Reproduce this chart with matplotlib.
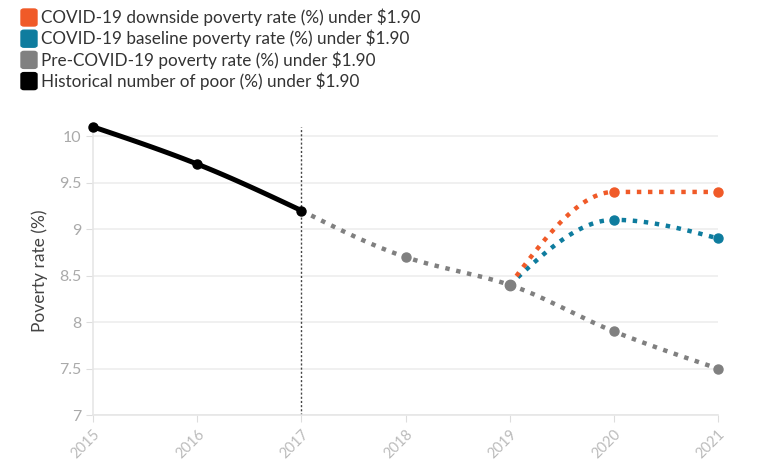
import numpy as np
import matplotlib
matplotlib.use('Agg')
import matplotlib.pyplot as plt
from matplotlib.patches import FancyBboxPatch

plt.rcParams['font.family'] = ['Lato', 'DejaVu Sans']

# data
hist_years = [2015, 2016, 2017]
hist_rate = [10.1, 9.7, 9.2]
pre_years = [2017, 2018, 2019, 2020, 2021]
pre_rate = [9.2, 8.7, 8.4, 7.9, 7.5]
covid_years = [2019, 2020, 2021]
base_rate = [8.4, 9.1, 8.9]
down_rate = [8.4, 9.4, 9.4]

labels = ['COVID-19 downside poverty rate (%) under $1.90',
          'COVID-19 baseline poverty rate (%) under $1.90',
          'Pre-COVID-19 poverty rate (%) under $1.90',
          'Historical number of poor (%) under $1.90']
c_down, c_base, c_pre, c_hist = '#f05a28', '#0e7c9e', '#808080', '#000000'


def monotone(x, y, n=40):
    # monotone cubic (same shape as d3 curveMonotoneX), only for drawing
    x = np.asarray(x, float); y = np.asarray(y, float)
    h = np.diff(x); d = np.diff(y) / h
    m = np.zeros_like(y)
    for i in range(1, len(y) - 1):
        if d[i-1] * d[i] > 0:
            m[i] = 3 * (h[i-1] + h[i]) / ((2*h[i] + h[i-1]) / d[i-1] + (h[i] + 2*h[i-1]) / d[i])
    m[0] = (3 * d[0] - m[1]) / 2 if len(y) > 2 else d[0]
    m[-1] = (3 * d[-1] - m[-2]) / 2 if len(y) > 2 else d[-1]
    if np.sign(m[0]) != np.sign(d[0]): m[0] = 0
    if np.sign(m[-1]) != np.sign(d[-1]): m[-1] = 0
    xs, ys = [], []
    for i in range(len(h)):
        t = np.linspace(0, 1, n)
        h00 = 2*t**3 - 3*t**2 + 1; h10 = t**3 - 2*t**2 + t
        h01 = -2*t**3 + 3*t**2; h11 = t**3 - t**2
        xs.append(x[i] + t*h[i])
        ys.append(h00*y[i] + h10*h[i]*m[i] + h01*y[i+1] + h11*h[i]*m[i+1])
    return np.concatenate(xs), np.concatenate(ys)


fig = plt.figure(figsize=(7.68, 4.75), dpi=100)
ax = fig.add_axes([0.121, 0.126, 0.814, 0.607])

for yy in np.arange(7, 10.01, 0.5):
    ax.axhline(yy, color='#eeeeee', lw=1.2, zorder=0)

ax.axvline(2017, color='#444444', lw=1, ls=(0, (1.5, 1.5)), zorder=1)

for yrs, vals, col in [(pre_years, pre_rate, c_pre), (covid_years, base_rate, c_base),
                       (covid_years, down_rate, c_down)]:
    sx, sy = monotone(yrs, vals)
    ax.plot(sx, sy, color=col, lw=3.2, ls=(0, (1, 1.5)), dash_capstyle='butt', zorder=2)
    ax.plot(yrs[1:], vals[1:], 'o', color=col, ms=6.5, zorder=3, clip_on=False)

sx, sy = monotone(hist_years, hist_rate)
ax.plot(sx, sy, color=c_hist, lw=3.6, zorder=4, clip_on=False)
ax.plot(hist_years, hist_rate, 'o', color=c_hist, ms=6.5, zorder=5, clip_on=False)
ax.plot([2019], [8.4], 'o', color=c_pre, ms=7.5, zorder=3)

ax.set_xlim(2015, 2021)
ax.set_ylim(7, 10.1)
ax.set_xticks(range(2015, 2022))
ax.set_xticklabels([str(y) for y in range(2015, 2022)], rotation=45, ha='right',
                   rotation_mode='anchor', color='#bbbbbb', fontsize=10.5)
ax.set_yticks([7, 7.5, 8, 8.5, 9, 9.5, 10])
ax.set_yticklabels(['7', '7.5', '8', '8.5', '9', '9.5', '10'], color='#aaaaaa', fontsize=11.5)
ax.tick_params(axis='both', color='#dddddd', length=5)
for s in ['top', 'right']:
    ax.spines[s].set_visible(False)
for s in ['left', 'bottom']:
    ax.spines[s].set_color('#e6e6e6')
    ax.spines[s].set_linewidth(1.2)
ax.set_ylabel('Poverty rate (%)', color='#444444', fontsize=12.5, labelpad=8)

# legend at top left
for i, (lab, col) in enumerate(zip(labels, [c_down, c_base, c_pre, c_hist])):
    ytop = 1 - (9 + i * 21.2) / 475
    fig.patches.append(FancyBboxPatch((21 / 768, ytop - 17 / 475), 16 / 768, 17 / 475,
                                      boxstyle='round,pad=0,rounding_size=0.004',
                                      transform=fig.transFigure, color=col))
    fig.text(41 / 768, ytop - 8.5 / 475, lab, fontsize=12.3, color='#333333', va='center')

fig.savefig('out.png', dpi=100)
